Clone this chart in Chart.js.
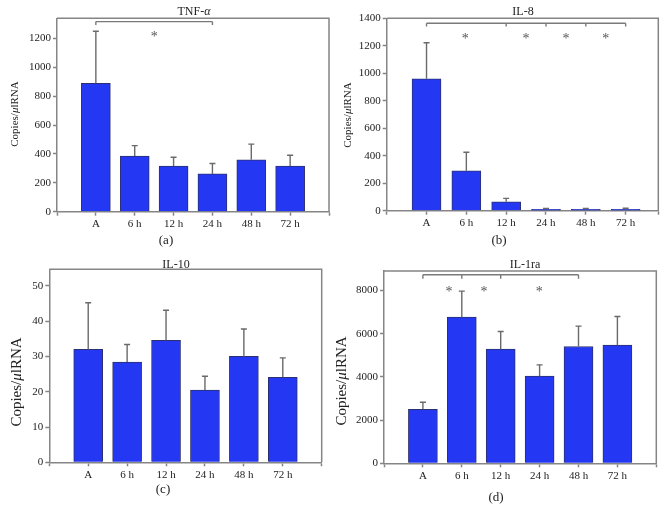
<!DOCTYPE html>
<html>
<head>
<meta charset="utf-8">
<script src="https://cdn.jsdelivr.net/npm/chart.js@4.4.1/dist/chart.umd.min.js"></script>
<style>
  html, body { margin:0; padding:0; background:#fff; }
  body { width:667px; height:518px; position:relative; overflow:hidden; font-family:'Liberation Serif', 'Times New Roman', serif; color:#222; }
  canvas { position:absolute; }
  .t { position:absolute; transform:translate(-50%,-50%); white-space:nowrap; line-height:1; }
  .r { position:absolute; transform:translate(-50%,-50%) rotate(-90deg); white-space:nowrap; line-height:1; }
</style>
</head>
<body>
<canvas id="cA" width="333" height="259" style="left:0;top:0;width:333px;height:259px"></canvas>
<canvas id="cB" width="334" height="259" style="left:333px;top:0;width:334px;height:259px"></canvas>
<canvas id="cC" width="333" height="259" style="left:0;top:259px;width:333px;height:259px"></canvas>
<canvas id="cD" width="334" height="259" style="left:333px;top:259px;width:334px;height:259px"></canvas>

<div class="t" style="left:194px;top:11px;font-size:12px">TNF-<i>α</i></div>
<div class="t" style="left:523px;top:10.5px;font-size:12px">IL-8</div>
<div class="t" style="left:176px;top:263.5px;font-size:12px">IL-10</div>
<div class="t" style="left:525px;top:264px;font-size:12px">IL-1ra</div>

<div class="r" style="left:14px;top:114px;font-size:11px">Copies/<i>μ</i>lRNA</div>
<div class="r" style="left:347px;top:115px;font-size:11px">Copies/<i>μ</i>lRNA</div>
<div class="r" style="left:16px;top:381.5px;font-size:15px">Copies/<i>μ</i>lRNA</div>
<div class="r" style="left:341px;top:381px;font-size:15px">Copies/<i>μ</i>lRNA</div>

<div class="t" style="left:166px;top:239px;font-size:13px">(a)</div>
<div class="t" style="left:499px;top:239px;font-size:13px">(b)</div>
<div class="t" style="left:163px;top:488px;font-size:13px">(c)</div>
<div class="t" style="left:496px;top:496px;font-size:13px">(d)</div>

<script>
// ---- data ----
const categories = ['A', '6 h', '12 h', '24 h', '48 h', '72 h'];

const tnfValues = [890, 386, 316, 262, 360, 316];
const tnfErrors = [360, 72, 61, 72, 108, 75];
const tnfTicks  = [0, 200, 400, 600, 800, 1000, 1200];

const il8Values = [960, 290, 65, 10, 10, 10];
const il8Errors = [262, 135, 25, 7, 7, 8];
const il8Ticks  = [0, 200, 400, 600, 800, 1000, 1200, 1400];

const il10Values = [32.0, 28.4, 34.6, 20.5, 30.0, 24.1];
const il10Errors = [13.2, 5.0, 8.5, 3.9, 7.8, 5.5];
const il10Ticks  = [0, 10, 20, 30, 40, 50];

const il1raValues = [2500, 6765, 5282, 4031, 5405, 5467];
const il1raErrors = [325, 1205, 818, 525, 942, 1328];
const il1raTicks  = [0, 2000, 4000, 6000, 8000];

// significance brackets (in category index / value units)
const tnfBrackets   = [{ y: 1317, drop: 1293, ticks: [1, 4] }];
const tnfStars      = [[2.5, 1223]];
const il8Brackets   = [{ y: 1364, drop: 1340, ticks: [1, 3, 4, 5, 6] }];
const il8Stars      = [[1.97, 1262], [3.5, 1262], [4.5, 1262], [5.5, 1262]];
const il1raBrackets = [{ y: 8726, drop: 8540, ticks: [1, 2, 3, 5] }];
const il1raStars    = [[1.67, 8000], [2.57, 8000], [3.99, 8000]];

// ---- drawing ----
const AXIS = '#858585';
const FONT = 'Liberation Serif';

const overlay = {
  id: 'overlay',
  afterDatasetsDraw(chart, args, o) {
    const { ctx, chartArea: a, scales: { x, y } } = chart;
    ctx.save();
    // error bars
    ctx.strokeStyle = '#6a6a6a';
    ctx.lineWidth = 1.4;
    o.values.forEach((v, i) => {
      const px = x.getPixelForValue(i + 1);
      const y0 = y.getPixelForValue(v);
      const y1 = y.getPixelForValue(v + o.errors[i]);
      ctx.beginPath();
      ctx.moveTo(px, y0); ctx.lineTo(px, y1);
      ctx.moveTo(px - 3, y1); ctx.lineTo(px + 3, y1);
      ctx.stroke();
    });
    // top and right frame
    ctx.strokeStyle = AXIS;
    ctx.lineWidth = 1.5;
    ctx.beginPath();
    ctx.moveTo(a.left, a.top); ctx.lineTo(a.right, a.top); ctx.lineTo(a.right, a.bottom);
    ctx.stroke();
    // brackets
    ctx.strokeStyle = '#7a7a7a';
    ctx.lineWidth = 1.4;
    (o.brackets || []).forEach(b => {
      const yy = y.getPixelForValue(b.y);
      const yd = y.getPixelForValue(b.drop);
      const xs = b.ticks.map(t => x.getPixelForValue(t));
      ctx.beginPath();
      ctx.moveTo(xs[0], yy); ctx.lineTo(xs[xs.length - 1], yy);
      xs.forEach(px => { ctx.moveTo(px, yy); ctx.lineTo(px, yd); });
      ctx.stroke();
    });
    // stars
    ctx.fillStyle = '#555';
    ctx.font = '14px ' + FONT;
    ctx.textAlign = 'center';
    ctx.textBaseline = 'middle';
    (o.stars || []).forEach(s => {
      ctx.fillText('*', x.getPixelForValue(s[0]), y.getPixelForValue(s[1]) + 2);
    });
    ctx.restore();
  }
};

function makeChart(id, cfg) {
  return new Chart(document.getElementById(id), {
    type: 'bar',
    data: {
      datasets: [{
        data: cfg.values.map((v, i) => ({ x: i + 1, y: v })),
        backgroundColor: '#2438f4',
        borderColor: '#2d3070',
        borderWidth: 1,
        barThickness: 29
      }]
    },
    options: {
      responsive: false,
      animation: false,
      layout: { padding: cfg.padding },
      plugins: {
        legend: { display: false },
        tooltip: { enabled: false },
        overlay: { values: cfg.values, errors: cfg.errors, brackets: cfg.brackets, stars: cfg.stars }
      },
      scales: {
        x: {
          type: 'linear',
          min: 0,
          max: cfg.xMax,
          offset: false,
          afterBuildTicks: s => { s.ticks = [0, 1, 2, 3, 4, 5, 6, cfg.xMax].map(v => ({ value: v })); },
          afterFit: s => { s.height = cfg.xHeight; s.paddingLeft = 0; s.paddingRight = 0; },
          border: { display: true, color: AXIS, width: 1.5 },
          grid: { display: true, offset: false, drawOnChartArea: false, drawTicks: true, tickLength: 4, tickColor: AXIS, tickWidth: 1.5 },
          ticks: {
            autoSkip: false, maxRotation: 0, padding: 2, color: '#222',
            font: { family: FONT, size: 11 },
            callback: v => (Number.isInteger(v) && v >= 1 && v <= categories.length) ? categories[v - 1] : ''
          }
        },
        y: {
          min: 0,
          max: cfg.yMax,
          afterBuildTicks: s => { s.ticks = cfg.yTicks.map(v => ({ value: v })); },
          afterFit: s => { s.width = cfg.yWidth; s.paddingTop = 0; s.paddingBottom = 0; },
          border: { display: true, color: AXIS, width: 1.5 },
          grid: { display: true, drawOnChartArea: false, drawTicks: true, tickLength: 4, tickColor: AXIS, tickWidth: 1.5 },
          ticks: { padding: 2, color: '#222', font: { family: FONT, size: 11 }, callback: v => String(v) }
        }
      }
    },
    plugins: [overlay]
  });
}

makeChart('cA', {
  values: tnfValues, errors: tnfErrors, yTicks: tnfTicks, yMax: 1340, xMax: 7,
  brackets: tnfBrackets, stars: tnfStars,
  padding: { left: 0, right: 4, top: 18.3, bottom: 0 }, yWidth: 57, xHeight: 47.3
});
makeChart('cB', {
  values: il8Values, errors: il8Errors, yTicks: il8Ticks, yMax: 1400, xMax: 6.82,
  brackets: il8Brackets, stars: il8Stars,
  padding: { left: 0, right: 8.7, top: 18.3, bottom: 0 }, yWidth: 53.7, xHeight: 48.3
});
makeChart('cC', {
  values: il10Values, errors: il10Errors, yTicks: il10Ticks, yMax: 54.7, xMax: 7,
  brackets: [], stars: [],
  padding: { left: 0, right: 11.3, top: 10.3, bottom: 0 }, yWidth: 49.3, xHeight: 55.7
});
makeChart('cD', {
  values: il1raValues, errors: il1raErrors, yTicks: il1raTicks, yMax: 8900, xMax: 7,
  brackets: il1raBrackets, stars: il1raStars,
  padding: { left: 0, right: 10.7, top: 12, bottom: 0 }, yWidth: 51, xHeight: 54.7
});
</script>
</body>
</html>
